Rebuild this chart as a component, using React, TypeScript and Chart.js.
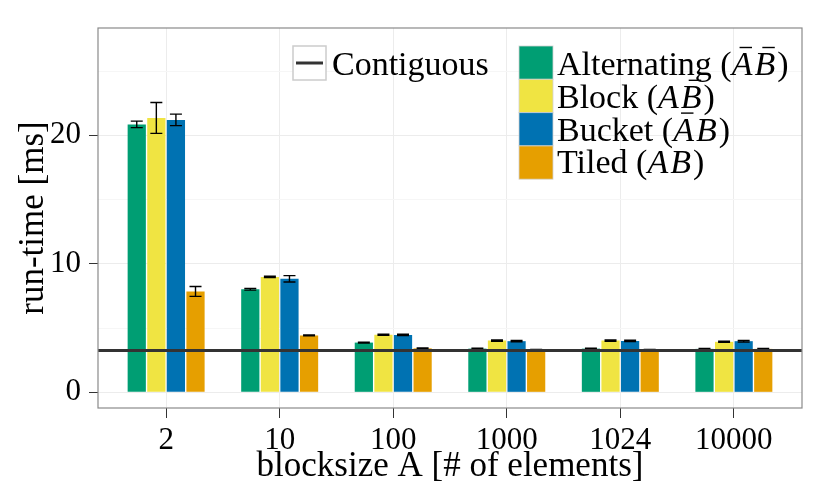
import React, { useEffect, useRef } from 'react';
import { Chart, registerables } from 'chart.js';
Chart.register(...registerables);

// blocksize categories on the x axis
const categories = ['2', '10', '100', '1000', '1024', '10000'];

// run-time in ms, one array per layout
const alternating = [20.85, 8.02, 3.87, 3.4, 3.4, 3.38];
const alternatingErr = [0.25, 0.07, 0.04, 0.04, 0.03, 0.03];
const block = [21.35, 8.98, 4.48, 4.03, 4.03, 3.93];
const blockErr = [1.2, 0.05, 0.05, 0.05, 0.05, 0.04];
const bucket = [21.2, 8.83, 4.47, 3.98, 4.0, 3.98];
const bucketErr = [0.45, 0.25, 0.05, 0.05, 0.05, 0.06];
const tiled = [7.85, 4.43, 3.42, 3.3, 3.3, 3.38];
const tiledErr = [0.38, 0.04, 0.03, 0.03, 0.03, 0.03];
const contiguous = 3.26;

const yTicks = [0, 5, 10, 15, 20, 25];

const seriesNames = ['Alternating', 'Block', 'Bucket', 'Tiled'];
// which of A / B carry a bar in the legend label
const seriesBars = [
    [true, true],
    [false, true],
    [true, false],
    [false, false],
];
const seriesColors = ['#009E73', '#F0E442', '#0072B2', '#E69F00'];

const FONT = 'Liberation Serif';

const errorBarPlugin = {
    id: 'errorBars',
    afterDatasetDraw(chart: any, args: any) {
        const ds = chart.data.datasets[args.index];
        if (!ds.errors) return;
        const ctx = chart.ctx;
        const y = chart.scales.y;
        ctx.save();
        ctx.strokeStyle = '#000';
        ctx.lineWidth = 1.4;
        args.meta.data.forEach((bar: any, i: number) => {
            const v = ds.data[i].y;
            const e = ds.errors[i];
            const top = y.getPixelForValue(v + e);
            const bot = y.getPixelForValue(v - e);
            ctx.beginPath();
            ctx.moveTo(bar.x, top);
            ctx.lineTo(bar.x, bot);
            ctx.moveTo(bar.x - 6, top);
            ctx.lineTo(bar.x + 6, top);
            ctx.moveTo(bar.x - 6, bot);
            ctx.lineTo(bar.x + 6, bot);
            ctx.stroke();
        });
        ctx.restore();
    },
};

function drawMathLabel(ctx: CanvasRenderingContext2D, x: number, y: number, name: string, bars: boolean[]) {
    const size = 34;
    ctx.font = `${size}px "${FONT}"`;
    const head = name + ' (';
    ctx.fillText(head, x, y);
    x += ctx.measureText(head).width;
    ['A', 'B'].forEach((letter, k) => {
        ctx.font = `italic ${size}px "${FONT}"`;
        const w = ctx.measureText(letter).width;
        ctx.fillText(letter, x, y);
        if (bars[k]) {
            ctx.beginPath();
            ctx.lineWidth = 1.4;
            ctx.moveTo(x + w * 0.38, y - 27.5);
            ctx.lineTo(x + w * 0.98, y - 27.5);
            ctx.stroke();
        }
        x += w + 2;
    });
    ctx.font = `${size}px "${FONT}"`;
    ctx.fillText(')', x, y);
}

const decorPlugin = {
    id: 'decor',
    afterDraw(chart: any) {
        const ctx: CanvasRenderingContext2D = chart.ctx;
        const a = chart.chartArea;
        ctx.save();
        // panel border
        ctx.strokeStyle = '#8a8a8a';
        ctx.lineWidth = 1.2;
        ctx.strokeRect(a.left, a.top, a.right - a.left, a.bottom - a.top);

        // axis titles
        ctx.fillStyle = '#000';
        ctx.strokeStyle = '#000';
        ctx.font = `35px "${FONT}"`;
        ctx.textAlign = 'center';
        ctx.textBaseline = 'alphabetic';
        ctx.fillText('blocksize A [# of elements]', (a.left + a.right) / 2, 476);
        ctx.save();
        ctx.translate(43, (a.top + a.bottom) / 2);
        ctx.rotate(-Math.PI / 2);
        ctx.fillText('run-time [ms]', 0, 0);
        ctx.restore();

        // legend
        ctx.textAlign = 'left';
        ctx.fillStyle = '#fff';
        ctx.fillRect(293, 46, 33, 34);
        ctx.strokeStyle = '#cccccc';
        ctx.lineWidth = 1.5;
        ctx.strokeRect(293, 46, 33, 34);
        ctx.strokeStyle = '#333';
        ctx.lineWidth = 3;
        ctx.beginPath();
        ctx.moveTo(296, 63);
        ctx.lineTo(323, 63);
        ctx.stroke();
        ctx.fillStyle = '#000';
        ctx.font = `34px "${FONT}"`;
        ctx.fillText('Contiguous', 332, 75);

        seriesNames.forEach((name, i) => {
            const top = 46 + i * 33.3;
            ctx.fillStyle = seriesColors[i];
            ctx.fillRect(519, top, 34, 33.3);
            ctx.strokeStyle = 'rgba(210,210,210,0.8)';
            ctx.lineWidth = 1;
            ctx.strokeRect(519, top, 34, 33.3);
            ctx.fillStyle = '#000';
            ctx.strokeStyle = '#000';
            drawMathLabel(ctx, 557, 75 + i * 32.8, name, seriesBars[i]);
        });
        ctx.restore();
    },
};

const App: React.FC = () => {
    const chartRef = useRef<HTMLCanvasElement>(null);
    const chartInstance = useRef<Chart | null>(null);

    useEffect(() => {
        if (!chartRef.current) return;
        const chartContext = chartRef.current.getContext('2d');
        if (!chartContext) return;
        if (chartInstance.current) chartInstance.current.destroy();

        const seriesValues = [alternating, block, bucket, tiled];
        const seriesErrors = [alternatingErr, blockErr, bucketErr, tiledErr];

        const barSets: any[] = seriesNames.map((name, s) => ({
            type: 'bar',
            label: name,
            data: categories.map((_, i) => ({ x: i + 1, y: seriesValues[s][i] })),
            errors: seriesErrors[s],
            backgroundColor: seriesColors[s],
            borderWidth: 0,
            categoryPercentage: 0.69,
            barPercentage: 0.93,
            order: 1,
        }));

        chartInstance.current = new Chart(chartContext, {
            type: 'bar',
            data: {
                datasets: [
                    ...barSets,
                    {
                        type: 'line',
                        label: 'Contiguous',
                        data: [
                            { x: 0.4, y: contiguous },
                            { x: categories.length + 0.6, y: contiguous },
                        ],
                        borderColor: '#333333',
                        borderWidth: 3,
                        pointRadius: 0,
                        order: 0,
                    } as any,
                ],
            },
            options: {
                responsive: false,
                animation: false,
                layout: { padding: { top: 28, right: 28, left: 0, bottom: 0 } },
                plugins: {
                    legend: { display: false },
                    tooltip: { enabled: false },
                },
                scales: {
                    x: {
                        type: 'linear',
                        offset: false,
                        min: 0.4,
                        max: categories.length + 0.6,
                        afterBuildTicks: (scale: any) => {
                            scale.ticks = categories.map((_, i) => ({ value: i + 1 }));
                        },
                        afterFit: (scale: any) => {
                            scale.height = 90;
                        },
                        ticks: {
                            callback: (v: any) => categories[Number(v) - 1] ?? '',
                            color: '#000',
                            font: { family: FONT, size: 31 },
                            padding: 4,
                            maxRotation: 0,
                            autoSkip: false,
                        },
                        grid: {
                            offset: false,
                            color: '#ececec',
                            lineWidth: 1,
                            tickColor: '#333',
                            tickLength: 10,
                        },
                        border: { display: false },
                    },
                    y: {
                        type: 'linear',
                        min: -1.22,
                        max: 28.35,
                        afterBuildTicks: (scale: any) => {
                            scale.ticks = yTicks.map((v) => ({ value: v }));
                        },
                        afterFit: (scale: any) => {
                            scale.width = 98;
                        },
                        ticks: {
                            callback: (v: any) => (Number(v) % 10 === 0 ? String(v) : ''),
                            color: '#000',
                            font: { family: FONT, size: 31 },
                            padding: 8,
                        },
                        grid: {
                            color: (c: any) => (c.tick && c.tick.value % 10 === 0 ? '#ececec' : '#f6f6f6'),
                            tickColor: (c: any) => (c.tick && c.tick.value % 10 === 0 ? '#333' : 'rgba(0,0,0,0)'),
                            tickLength: 9,
                        },
                        border: { display: false },
                    },
                },
            },
            plugins: [errorBarPlugin, decorPlugin],
        });

        return () => {
            if (chartInstance.current) {
                chartInstance.current.destroy();
                chartInstance.current = null;
            }
        };
    }, []);

    return (
        <div style={{ position: 'absolute', left: 0, top: 0, width: 830, height: 498, background: '#fff' }}>
            <canvas ref={chartRef} width={830} height={498} style={{ width: 830, height: 498 }}></canvas>
        </div>
    );
};

export default App;
